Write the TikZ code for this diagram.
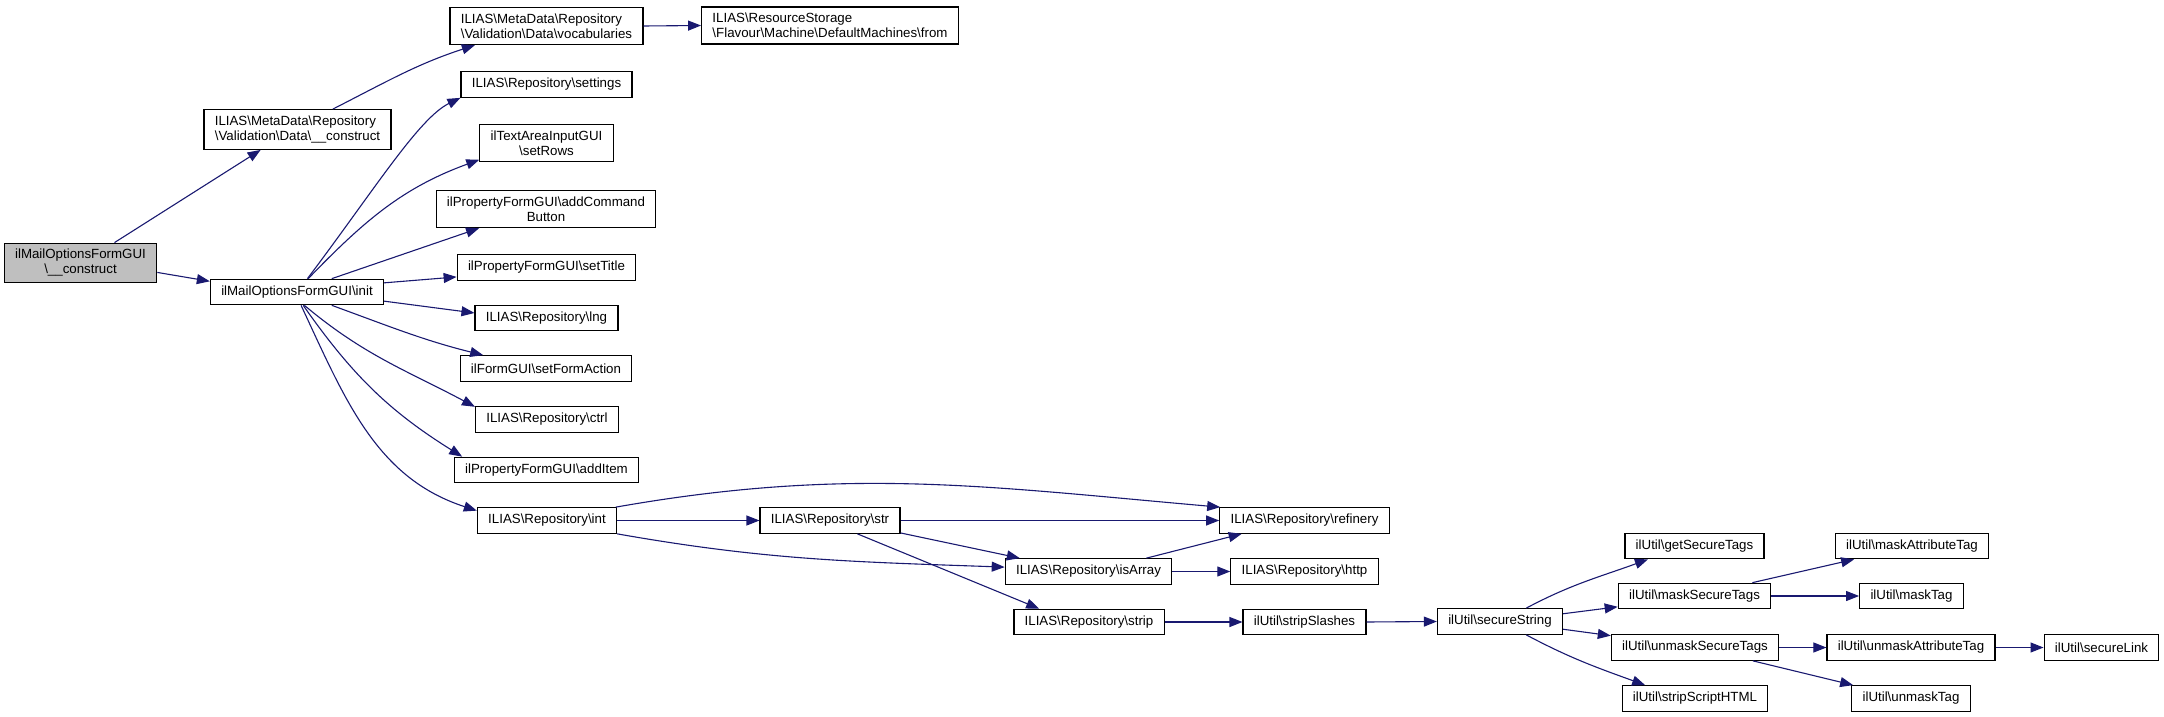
\documentclass[tikz,border=0pt]{standalone}
\usepackage{fontspec}
\setmainfont{Liberation Sans}
\usetikzlibrary{arrows.meta}
\definecolor{edgeblue}{HTML}{191970}
\definecolor{rootgray}{HTML}{BFBFBF}
\newcommand{\bsl}{\textbackslash}

\begin{document}
\begin{tikzpicture}[x=1pt,y=1pt,
  fn/.style={draw=black,line width=1.2pt,fill=white,font=\fontsize{13.3}{15}\selectfont,
    inner xsep=10.8pt,inner ysep=6.2pt,minimum height=25.5pt,align=center},
  call/.style={draw=edgeblue,line width=1.1pt,-{Triangle[length=13pt,width=10pt]}}]
\useasboundingbox (0,0) rectangle (2164,-717);
% first column
\node[fn,fill=rootgray] (root) at (80.5,-263) {ilMailOptionsFormGUI\\\bsl\_\_construct};
\node[fn,align=left] (mdconstruct) at (297.5,-129.5) {ILIAS\bsl MetaData\bsl Repository\\\bsl Validation\bsl Data\bsl\_\_construct};
\node[fn] (init) at (297,-292) {ilMailOptionsFormGUI\bsl init};
% second column
\node[fn,align=left] (vocab) at (546.5,-26) {ILIAS\bsl MetaData\bsl Repository\\\bsl Validation\bsl Data\bsl vocabularies};
\node[fn,align=left] (resfrom) at (830,-25.5) {ILIAS\bsl ResourceStorage\\\bsl Flavour\bsl Machine\bsl DefaultMachines\bsl from};
\node[fn] (settings) at (546.5,-84.5) {ILIAS\bsl Repository\bsl settings};
\node[fn] (setrows) at (546.5,-143) {ilTextAreaInputGUI\\\bsl setRows};
\node[fn] (addcmd) at (546,-209) {ilPropertyFormGUI\bsl addCommand\\Button};
\node[fn] (settitle) at (546.5,-267.5) {ilPropertyFormGUI\bsl setTitle};
\node[fn] (lng) at (546.5,-318) {ILIAS\bsl Repository\bsl lng};
\node[fn] (formaction) at (546,-368.5) {ilFormGUI\bsl setFormAction};
\node[fn] (ctrl) at (547,-419.5) {ILIAS\bsl Repository\bsl ctrl};
\node[fn] (additem) at (546.5,-470) {ilPropertyFormGUI\bsl addItem};
\node[fn] (int) at (547,-520.5) {ILIAS\bsl Repository\bsl int};
% repository helpers
\node[fn] (str) at (830,-520.5) {ILIAS\bsl Repository\bsl str};
\node[fn] (refinery) at (1304.5,-520.5) {ILIAS\bsl Repository\bsl refinery};
\node[fn] (isarray) at (1088.5,-571.5) {ILIAS\bsl Repository\bsl isArray};
\node[fn] (http) at (1304.5,-571.5) {ILIAS\bsl Repository\bsl http};
\node[fn] (strip) at (1089,-622) {ILIAS\bsl Repository\bsl strip};
\node[fn] (stripslashes) at (1304.5,-622) {ilUtil\bsl stripSlashes};
% ilUtil
\node[fn] (securestring) at (1500,-621.5) {ilUtil\bsl secureString};
\node[fn] (getsecure) at (1694.5,-546) {ilUtil\bsl getSecureTags};
\node[fn] (masksecure) at (1694.5,-596) {ilUtil\bsl maskSecureTags};
\node[fn] (unmasksecure) at (1695,-647.5) {ilUtil\bsl unmaskSecureTags};
\node[fn] (stripscript) at (1695,-698.5) {ilUtil\bsl stripScriptHTML};
\node[fn] (maskattr) at (1912,-546) {ilUtil\bsl maskAttributeTag};
\node[fn] (masktag) at (1911.5,-596) {ilUtil\bsl maskTag};
\node[fn] (unmaskattr) at (1911,-647.5) {ilUtil\bsl unmaskAttributeTag};
\node[fn] (unmasktag) at (1911,-698.5) {ilUtil\bsl unmaskTag};
\node[fn] (securelink) at (2101.5,-647.5) {ilUtil\bsl secureLink};
% calls
\draw[call] (root.31) -- (mdconstruct.209);
\draw[call] (root.-7.5) -- (init.173);
\draw[call] (mdconstruct.30) to[out=27,in=198] (vocab.195.6);
\draw[call] (vocab.east) -- (resfrom.west);
\draw[call] (init.52) to[out=53,in=206,out looseness=1.2,in looseness=0.5] (settings.south west);
\draw[call] (init.50) to[out=46,in=200] (setrows.194);
\draw[call] (init.21.5) -- (addcmd.196);
\draw[call] (init.6) -- (settitle.186);
\draw[call] (init.-6.6) -- (lng.176);
\draw[call] (init.-21.5) to[out=-20,in=166] (formaction.168);
\draw[call] (init.-61.7) to[out=-40,in=152] (ctrl.170);
\draw[call] (init.-65) to[out=-55,in=148] (additem.171);
\draw[call] (init.-73) to[out=-65,in=162] (int.172);
\draw[call] (int.11.2) to[out=10,in=175] (refinery.171.3);
\draw[call] (int.east) -- (str.west);
\draw[call] (int.south east) to[out=-10,in=178] (isarray.177);
\draw[call] (str.east) -- (refinery.west);
\draw[call] (str.-10.7) -- (isarray.169);
\draw[call] (str.-26) -- (strip.165);
\draw[call] (isarray.13) -- (refinery.192.5);
\draw[call] (isarray.east) -- (http.west);
\draw[call] (strip.east) -- (stripslashes.west);
\draw[call] (stripslashes.east) -- (securestring.west);
\draw[call] (securestring.27) to[out=28,in=200] (getsecure.196);
\draw[call] (securestring.7.8) -- (masksecure.188);
\draw[call] (securestring.-7.8) -- (unmasksecure.172.9);
\draw[call] (securestring.-27) to[out=-28,in=160] (stripscript.165.7);
\draw[call] (masksecure.13.7) -- (maskattr.193);
\draw[call] (masksecure.east) -- (masktag.west);
\draw[call] (unmasksecure.east) -- (unmaskattr.west);
\draw[call] (unmasksecure.-13.3) -- (unmasktag.167);
\draw[call] (unmaskattr.east) -- (securelink.west);
\end{tikzpicture}
\end{document}
